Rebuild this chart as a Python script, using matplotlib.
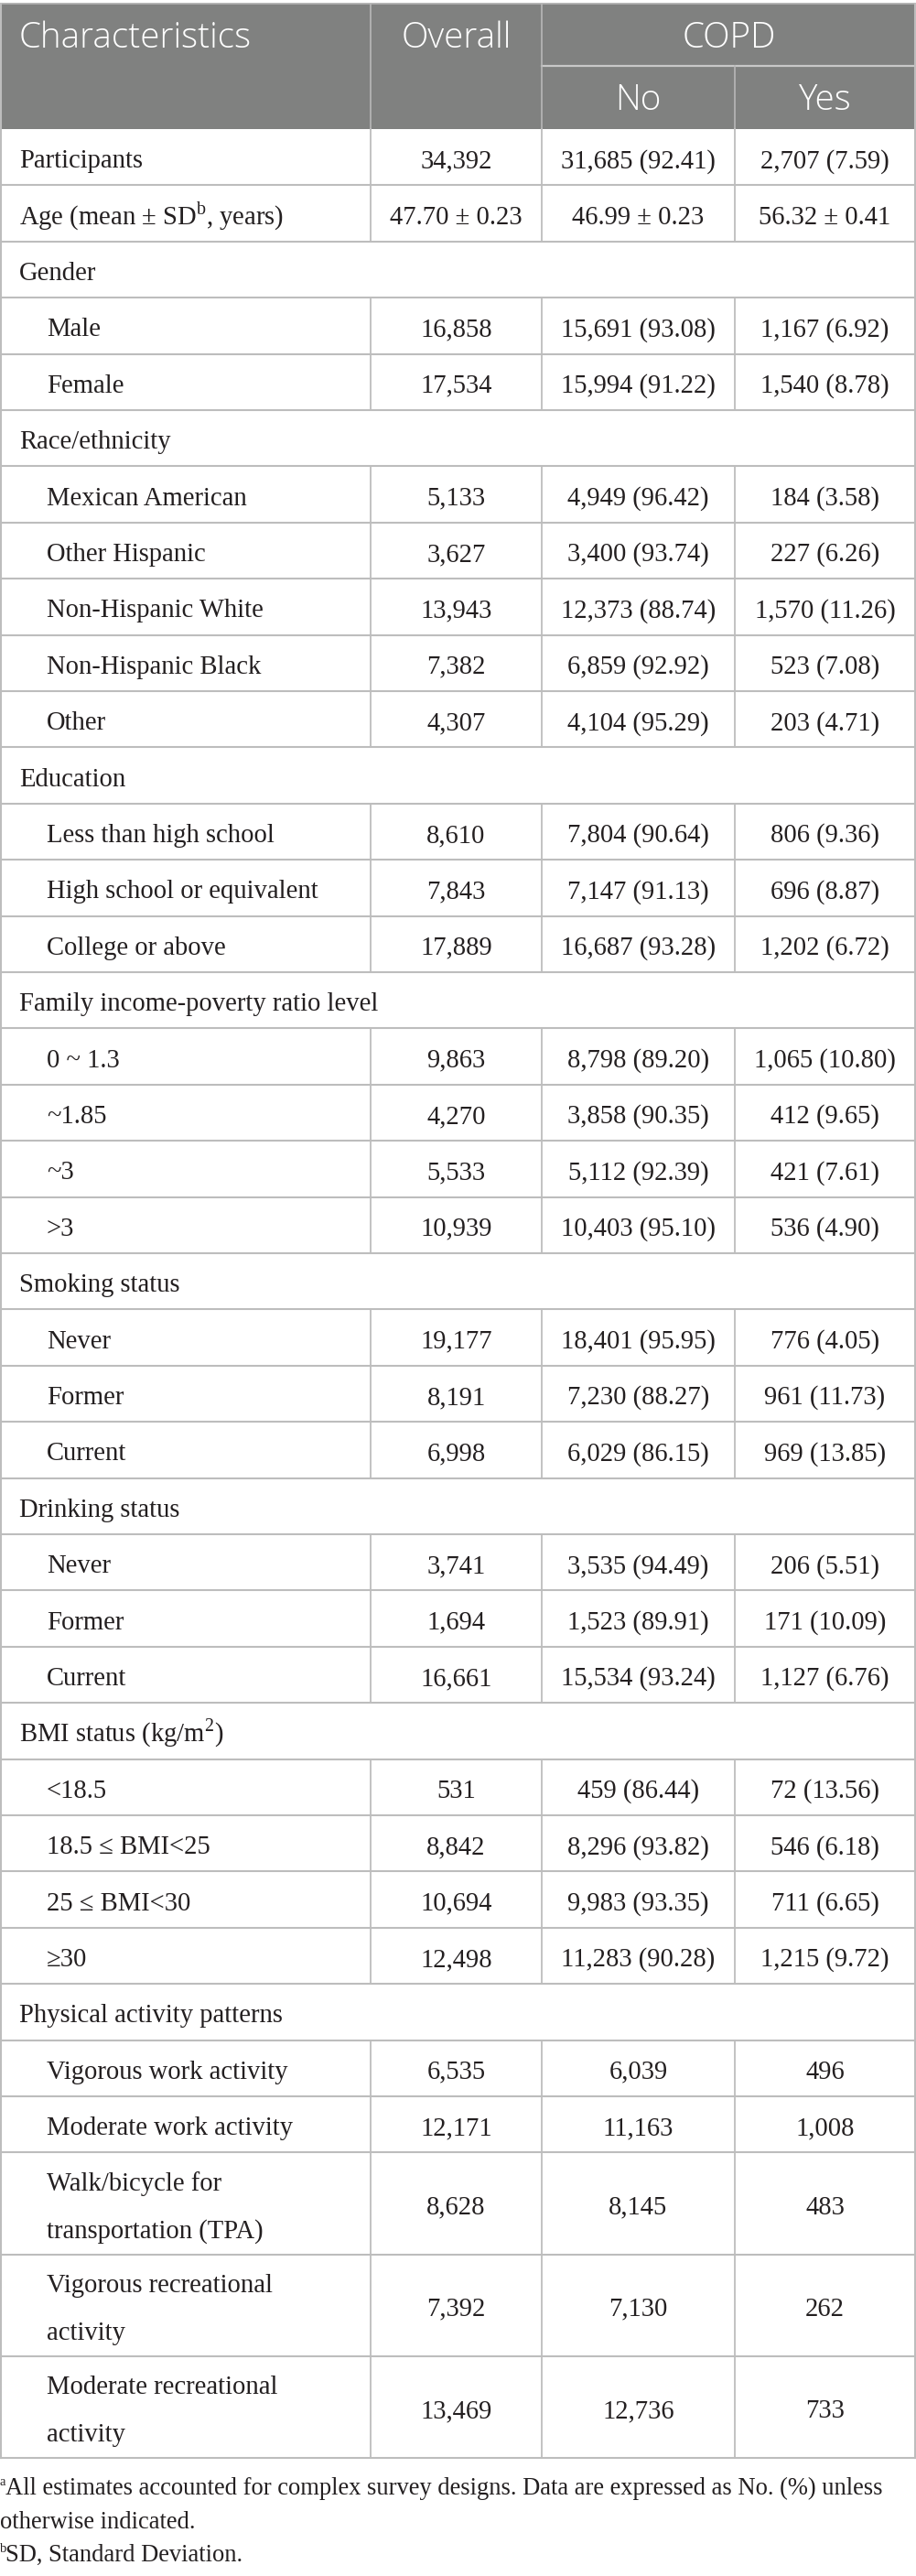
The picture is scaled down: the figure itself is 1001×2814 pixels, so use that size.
import matplotlib
matplotlib.use('Agg')
import matplotlib.pyplot as plt

plt.rcParams['mathtext.fontset'] = 'custom'
plt.rcParams['mathtext.rm'] = 'Liberation Serif'

# row type: 't' top level with values, 's' section title, 'i' indented item
row_kind = ['t', 't',
            's', 'i', 'i',
            's', 'i', 'i', 'i', 'i', 'i',
            's', 'i', 'i', 'i',
            's', 'i', 'i', 'i', 'i',
            's', 'i', 'i', 'i',
            's', 'i', 'i', 'i',
            's', 'i', 'i', 'i', 'i',
            's', 'i', 'i', 'i', 'i', 'i']
row_labels = ['Participants', 'Age (mean \u00b1 SD$^{\\mathrm{b}}$, years)',
              'Gender', 'Male', 'Female',
              'Race/ethnicity', 'Mexican American', 'Other Hispanic', 'Non-Hispanic White',
              'Non-Hispanic Black', 'Other',
              'Education', 'Less than high school', 'High school or equivalent', 'College or above',
              'Family income-poverty ratio level', '0 ~ 1.3', '~1.85', '~3', '>3',
              'Smoking status', 'Never', 'Former', 'Current',
              'Drinking status', 'Never', 'Former', 'Current',
              'BMI status (kg/m$^{\\mathrm{2}}$)', '<18.5', '18.5 \u2264 BMI<25', '25 \u2264 BMI<30', '\u226530',
              'Physical activity patterns', 'Vigorous work activity', 'Moderate work activity',
              'Walk/bicycle for\ntransportation (TPA)', 'Vigorous recreational\nactivity',
              'Moderate recreational\nactivity']
overall = ['34,392', '47.70 \u00b1 0.23',
           '', '16,858', '17,534',
           '', '5,133', '3,627', '13,943', '7,382', '4,307',
           '', '8,610', '7,843', '17,889',
           '', '9,863', '4,270', '5,533', '10,939',
           '', '19,177', '8,191', '6,998',
           '', '3,741', '1,694', '16,661',
           '', '531', '8,842', '10,694', '12,498',
           '', '6,535', '12,171', '8,628', '7,392', '13,469']
copd_no = ['31,685 (92.41)', '46.99 \u00b1 0.23',
           '', '15,691 (93.08)', '15,994 (91.22)',
           '', '4,949 (96.42)', '3,400 (93.74)', '12,373 (88.74)', '6,859 (92.92)', '4,104 (95.29)',
           '', '7,804 (90.64)', '7,147 (91.13)', '16,687 (93.28)',
           '', '8,798 (89.20)', '3,858 (90.35)', '5,112 (92.39)', '10,403 (95.10)',
           '', '18,401 (95.95)', '7,230 (88.27)', '6,029 (86.15)',
           '', '3,535 (94.49)', '1,523 (89.91)', '15,534 (93.24)',
           '', '459 (86.44)', '8,296 (93.82)', '9,983 (93.35)', '11,283 (90.28)',
           '', '6,039', '11,163', '8,145', '7,130', '12,736']
copd_yes = ['2,707 (7.59)', '56.32 \u00b1 0.41',
            '', '1,167 (6.92)', '1,540 (8.78)',
            '', '184 (3.58)', '227 (6.26)', '1,570 (11.26)', '523 (7.08)', '203 (4.71)',
            '', '806 (9.36)', '696 (8.87)', '1,202 (6.72)',
            '', '1,065 (10.80)', '412 (9.65)', '421 (7.61)', '536 (4.90)',
            '', '776 (4.05)', '961 (11.73)', '969 (13.85)',
            '', '206 (5.51)', '171 (10.09)', '1,127 (6.76)',
            '', '72 (13.56)', '546 (6.18)', '711 (6.65)', '1,215 (9.72)',
            '', '496', '1,008', '483', '262', '733']
header_top = ['Characteristics', 'Overall', 'COPD']
header_sub = ['No', 'Yes']
footnotes = [('a', 'All estimates accounted for complex survey designs. Data are expressed as No. (%) unless'),
             ('', 'otherwise indicated.'),
             ('b', 'SD, Standard Deviation.')]

W, H = 1001, 2814
fig = plt.figure(figsize=(W / 100, H / 100), dpi=100)
ax = fig.add_axes([0, 0, 1, 1])
ax.set_xlim(0, W)
ax.set_ylim(H, 0)
ax.axis('off')

serif = ['Liberation Serif', 'DejaVu Serif']
sans = ['Open Sans', 'DejaVu Sans']
txt = '#231f20'
grid = '#bdbdbd'
head_bg = '#808180'

renderer = fig.canvas.get_renderer()


def fit_size(s, family, target, weight='normal'):
    # font size that makes string s about target px wide
    t = ax.text(0, 0, s, fontsize=20, family=family, fontweight=weight)
    w = t.get_window_extent(renderer).width
    t.remove()
    return 20 * target / w


fs = fit_size(row_labels[15], serif, 392)
hfs = fit_size(header_top[0], sans, 255, 'light')
ffs = fit_size(footnotes[0][1], serif, 961)

col_x = [0, 405, 592, 803, 1000]
col_c = [(col_x[i] + col_x[i + 1]) / 2 for i in range(4)]

# header
head_top, head_mid, head_bot = 4, 72, 141
ax.fill_between([0, W], head_top, head_bot, color=head_bg, lw=0)
ax.plot([0, W], [head_top, head_top], color='#b0b0b0', lw=1.3)
ax.plot([col_x[2], W], [head_mid, head_mid], color='#c8c8c8', lw=1.6)
for x in col_x[1:4]:
    y0 = head_mid if x == col_x[3] else head_top
    ax.plot([x, x], [y0, head_bot], color='#b8b8b8', lw=1.2)
hy1, hy2 = 52.5, 120
hkw = dict(color='white', fontsize=hfs, family=sans, fontweight='light', va='baseline')
ax.text(21, hy1, header_top[0], ha='left', **hkw)
ax.text(col_c[1], hy1, header_top[1], ha='center', **hkw)
ax.text((col_x[2] + W) / 2, hy1, header_top[2], ha='center', **hkw)
ax.text(col_c[2], hy2, header_sub[0], ha='center', **hkw)
ax.text(col_c[3], hy2, header_sub[1], ha='center', **hkw)

# body
single_h, double_h = 61.4, 111.3
y = head_bot
for k, lab, o, n, ys in zip(row_kind, row_labels, overall, copd_no, copd_yes):
    lines = lab.split('\n')
    h = single_h if len(lines) == 1 else double_h
    yc = y + h / 2
    lx = 51 if k == 'i' else 21
    if len(lines) == 1:
        ax.text(lx, yc + 11.5, lines[0], fontsize=fs, family=serif, color=txt, va='baseline')
    else:
        ax.text(lx, yc - 26 + 11.5, lines[0], fontsize=fs, family=serif, color=txt, va='baseline')
        ax.text(lx, yc + 26 + 11.5, lines[1], fontsize=fs, family=serif, color=txt, va='baseline')
    if k != 's':
        for c, v in zip(col_c[1:], [o, n, ys]):
            ax.text(c, yc + 11.5, v, fontsize=fs, family=serif, color=txt, va='baseline', ha='center')
        for x in col_x[1:4]:
            ax.plot([x, x], [y, y + h], color=grid, lw=1.3)
    y += h
    ax.plot([0, W], [y, y], color=grid, lw=1.5)

ax.plot([0.8, 0.8], [head_top, y], color=grid, lw=1.5)
ax.plot([W - 0.8, W - 0.8], [head_top, y], color=grid, lw=1.5)

# footnotes
fy = [2725, 2762, 2798]
for (sup, line), yy in zip(footnotes, fy):
    x0 = 0
    if sup:
        ax.text(0, yy - 10, sup, fontsize=ffs * 0.55, family=serif, color=txt, va='baseline')
        x0 = 6
    ax.text(x0, yy, line, fontsize=ffs, family=serif, color=txt, va='baseline')

plt.savefig('out.png', dpi=100)
